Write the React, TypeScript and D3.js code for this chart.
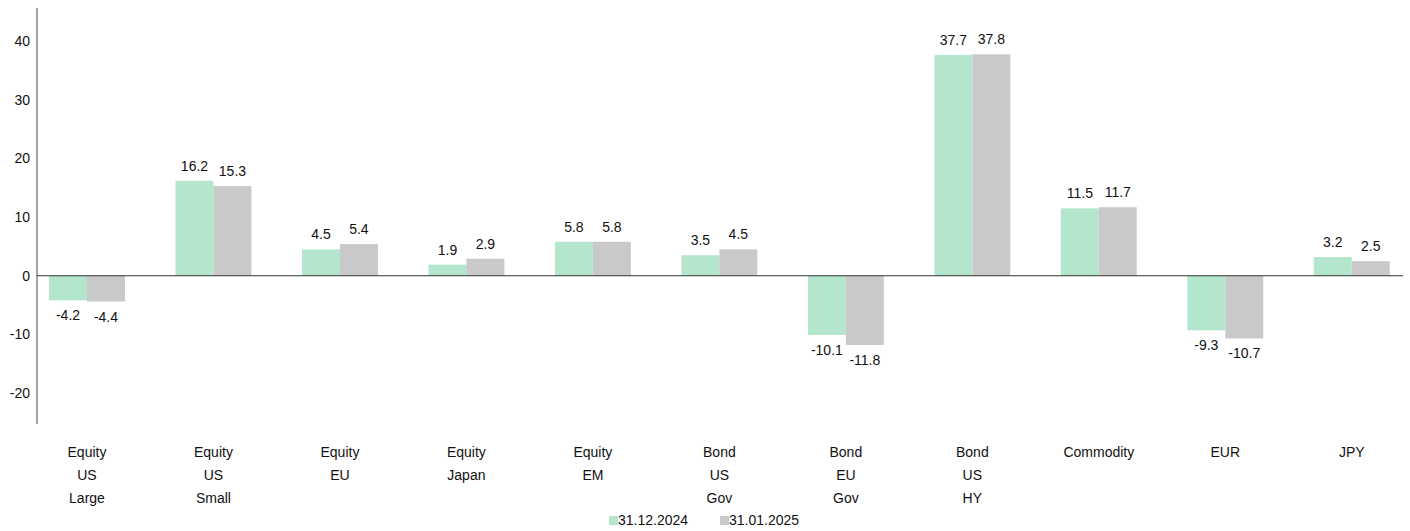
import React from 'react';
import * as d3 from 'd3';

const categories = [
  ['Equity', 'US', 'Large'],
  ['Equity', 'US', 'Small'],
  ['Equity', 'EU'],
  ['Equity', 'Japan'],
  ['Equity', 'EM'],
  ['Bond', 'US', 'Gov'],
  ['Bond', 'EU', 'Gov'],
  ['Bond', 'US', 'HY'],
  ['Commodity'],
  ['EUR'],
  ['JPY'],
];
const seriesNames = ['31.12.2024', '31.01.2025'];
const dec2024 = [-4.2, 16.2, 4.5, 1.9, 5.8, 3.5, -10.1, 37.7, 11.5, -9.3, 3.2];
const jan2025 = [-4.4, 15.3, 5.4, 2.9, 5.8, 4.5, -11.8, 37.8, 11.7, -10.7, 2.5];
const yTicks = [-20, -10, 0, 10, 20, 30, 40];

const colors = ['#b3e6cc', '#c9c9c9'];
const font = 'Arial, "Liberation Sans", sans-serif';

const App = () => {
  const width = 1410;
  const height = 531;
  const axisX = 37;
  const lineEnd = 1403;

  const keys = categories.map((_, i) => String(i));
  const x = d3.scaleBand<string>().domain(keys).range([23.75, 1415]).paddingInner(0.4).paddingOuter(0.2);
  const x1 = d3.scaleBand<number>().domain([0, 1]).range([0, x.bandwidth()]);
  const y = d3.scaleLinear().domain([-25.3, 45.7]).range([424, 8]);
  const series = [dec2024, jan2025];

  return (
    <svg width={width} height={height} style={{ position: 'absolute', left: 0, top: 0 }} fontFamily={font}>
      <line x1={axisX} x2={axisX} y1={y(45.7)} y2={y(-25.3)} stroke="#444" strokeWidth={1} />
      {yTicks.map((t) => (
        <text key={t} x={30} y={y(t)} dy="0.35em" textAnchor="end" fontSize={14} fill="#111">{t}</text>
      ))}
      {series.map((vals, s) =>
        vals.map((v, i) => {
          const bx = (x(String(i)) || 0) + (x1(s) || 0);
          const top = y(Math.max(0, v));
          const h = Math.abs(y(v) - y(0));
          return (
            <g key={`${s}-${i}`}>
              <rect x={bx} y={top} width={x1.bandwidth()} height={h} fill={colors[s]} />
              <text
                x={bx + x1.bandwidth() / 2}
                y={v >= 0 ? y(v) - 10 : y(v) + 20}
                textAnchor="middle"
                fontSize={14}
                fill="#111"
              >
                {v.toFixed(1)}
              </text>
            </g>
          );
        })
      )}
      <line x1={axisX} x2={lineEnd} y1={y(0)} y2={y(0)} stroke="#333" strokeWidth={1} />
      {categories.map((lines, i) => (
        <text key={i} x={(x(String(i)) || 0) + x.bandwidth() / 2} textAnchor="middle" fontSize={14} fill="#111">
          {lines.map((l, j) => (
            <tspan key={j} x={(x(String(i)) || 0) + x.bandwidth() / 2} y={457 + j * 23}>{l}</tspan>
          ))}
        </text>
      ))}
      {seriesNames.map((n, s) => (
        <g key={n} transform={`translate(${609 + s * 111},0)`}>
          <rect x={0} y={516} width={9} height={9} fill={colors[s]} />
          <text x={9} y={525} fontSize={14} fill="#111">{n}</text>
        </g>
      ))}
    </svg>
  );
};

export default App;
